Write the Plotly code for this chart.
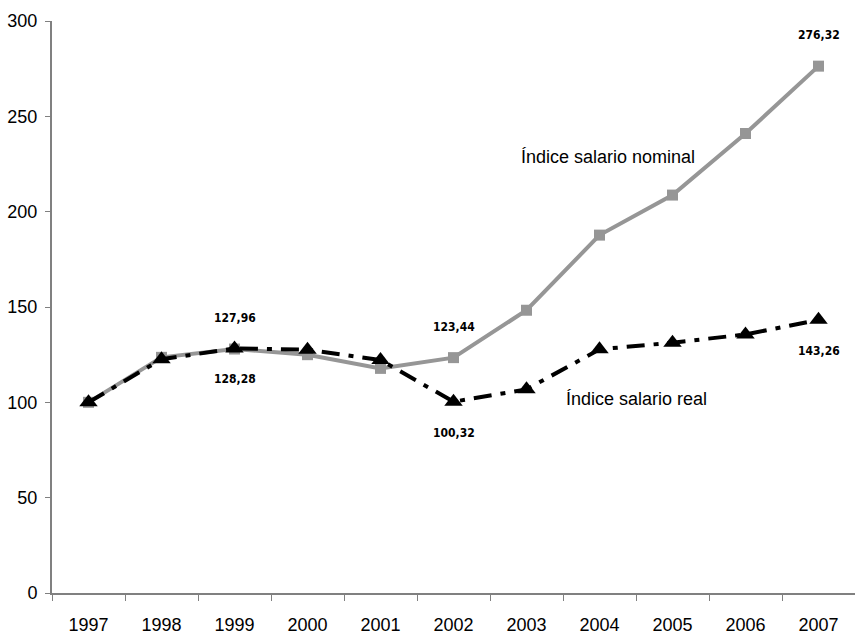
import plotly.graph_objects as go

years = ["1997", "1998", "1999", "2000", "2001", "2002", "2003", "2004", "2005", "2006", "2007"]
nominal = [100, 123.6, 127.96, 125.0, 117.8, 123.44, 148.3, 187.7, 208.7, 241.0, 276.32]
real = [100, 122.6, 128.28, 127.6, 122.2, 100.32, 106.8, 127.8, 131.3, 135.6, 143.26]

labelled_years = ["1999", "2002", "2007"]
name_nominal = "Índice salario nominal"
name_real = "Índice salario real"

TICK_FONT = "Liberation Sans, Arial, sans-serif"
LABEL_FONT = "DejaVu Sans Condensed, Liberation Sans, Arial, sans-serif"


def fmt(v):
    return f"{v:.2f}".replace(".", ",")


fig = go.Figure()
fig.add_trace(go.Scatter(
    x=years, y=nominal, mode="lines+markers", name=name_nominal,
    line=dict(color="#969696", width=4),
    marker=dict(symbol="square", size=11, color="#969696"),
))
fig.add_trace(go.Scatter(
    x=years, y=real, mode="lines+markers", name=name_real,
    line=dict(color="#000000", width=4, dash="18px,9px,5px,9px"),
    marker=dict(symbol="triangle-up", size=16, color="#000000"),
))

annotations = []
for yr in labelled_years:
    i = years.index(yr)
    annotations.append(dict(x=i, y=nominal[i], xref="x", yref="y", text=fmt(nominal[i]),
                            showarrow=False, yshift=31, xanchor="center", yanchor="middle",
                            font=dict(family=LABEL_FONT, size=12, color="#000000", weight="bold")))
    annotations.append(dict(x=i, y=real[i], xref="x", yref="y", text=fmt(real[i]),
                            showarrow=False, yshift=-31, xanchor="center", yanchor="middle",
                            font=dict(family=LABEL_FONT, size=12, color="#000000", weight="bold")))

annotations.append(dict(x=7.12, y=228.7, xref="x", yref="y", text=name_nominal, showarrow=False,
                        xanchor="center", yanchor="middle",
                        font=dict(family=TICK_FONT, size=18, color="#000000")))
annotations.append(dict(x=7.51, y=102, xref="x", yref="y", text=name_real, showarrow=False,
                        xanchor="center", yanchor="middle",
                        font=dict(family=TICK_FONT, size=18, color="#000000")))

fig.update_layout(
    width=855, height=636,
    margin=dict(l=52, r=0, t=21, b=43),
    paper_bgcolor="white", plot_bgcolor="white",
    showlegend=False,
    annotations=annotations,
    font=dict(family=TICK_FONT, size=18, color="#000000"),
)
fig.update_xaxes(
    type="category", range=[-0.5, 10.5],
    showline=True, linecolor="#808080", linewidth=2,
    ticks="outside", ticklen=6, tickwidth=1, tickcolor="#808080",
    tickson="boundaries", showgrid=False, zeroline=False,
    ticklabelstandoff=14,
    tickfont=dict(family=TICK_FONT, size=18, color="#000000"),
)
fig.update_yaxes(
    range=[0, 300], dtick=50, tick0=0,
    showline=True, linecolor="#808080", linewidth=2,
    ticks="outside", ticklen=5, tickwidth=1, tickcolor="#808080",
    showgrid=False, zeroline=False,
    ticklabelstandoff=4,
    tickfont=dict(family=TICK_FONT, size=18, color="#000000"),
)

fig.write_html("out.html")
